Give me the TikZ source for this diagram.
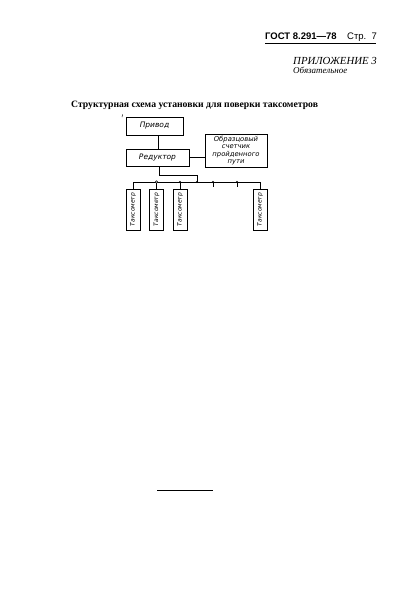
\documentclass[tikz,border=0pt]{standalone}
\usepackage{fontspec}
\setmainfont{Liberation Serif}
\setsansfont{Liberation Sans}
\newfontfamily\drawfont{DejaVu Sans}
\begin{document}
\begin{tikzpicture}[x=1pt,y=-1pt,
  blk/.style={draw,line width=0.6pt,inner sep=0pt,font=\drawfont\itshape\fontsize{7.5}{8}\selectfont},
  taxo/.style={blk,minimum width=14pt,minimum height=41pt},
  wire/.style={line width=0.6pt},
  dot/.style={circle,fill,inner sep=0pt,minimum size=2.2pt},
  odot/.style={circle,draw,fill=white,inner sep=0pt,minimum size=2.4pt,line width=0.5pt}]
\useasboundingbox (0,0) rectangle (419,602);
% header
\node[anchor=base west,inner sep=0pt,font=\sffamily\bfseries\fontsize{9.5}{10}\selectfont] (gost) at (265,40) {ГОСТ 8.291—78};
\node[anchor=base west,inner sep=0pt,font=\sffamily\fontsize{9.5}{10}\selectfont] (page) at (347,40) {Стр.\ \ 7};
\draw[line width=1pt] (265,44) -- (376,44);
\node[anchor=base west,inner sep=0pt,font=\itshape\fontsize{10.8}{12}\selectfont] (app) at (293,65) {ПРИЛОЖЕНИЕ 3};
\node[anchor=base west,inner sep=0pt,font=\itshape\fontsize{9}{10}\selectfont] (oblig) at (293,74) {Обязательное};
\node[anchor=base west,inner sep=0pt,font=\bfseries\fontsize{9.7}{10}\selectfont] (title) at (71,107) {Структурная схема установки для поверки таксометров};
% blocks
\node[blk,minimum width=57pt,minimum height=18pt] (privod) at (154.5,126) {Привод};
\node[blk,minimum width=63pt,minimum height=17pt] (red) at (157.5,157.5) {Редуктор};
\node[blk,minimum width=62pt,minimum height=33pt,align=center,font=\drawfont\itshape\fontsize{6.8}{7.3}\selectfont] (cnt) at (236,150.5) {Образцовый\\счетчик\\пройденного\\пути};
\draw[line width=0.5pt] (122,117) -- (122.6,114.5);
\draw[wire] ([xshift=3.5pt]privod.south) -- ([xshift=3.5pt]privod.south |- red.north);
\draw[wire] (red.east) -- (red.east -| cnt.west);
% taxometers
\foreach \n/\x in {t1/133,t2/156.5,t3/180,t4/260}{
  \node[taxo] (\n) at (\x,209.5) {\rotatebox{90}{\fontsize{6}{7}\selectfont Таксометр}};
}
\coordinate (bl) at (133,182);
\coordinate (br) at (260,182);
\coordinate (feed) at (197,182);
\coordinate (tap1) at (213,182);
\coordinate (tap2) at (237,182);
\draw[wire] (bl) -- (br);
\draw[wire] ([xshift=2pt]red.south) |- (197,175) -- (feed);
\foreach \n in {t1,t2,t3,t4}{ \draw[wire] (\n.north) -- (\n.north |- bl); }
\draw[wire] (tap1) -- ++(0,5);
\draw[wire] (tap2) -- ++(0,5);
\node[odot] at (t2.north |- bl) {};
\node[dot] at (t3.north |- bl) {};
\node[dot] at (feed) {};
\node[dot] at (tap1) {};
\node[dot] at (tap2) {};
% bottom rule
\draw[line width=1pt] (157,490) -- (213,490);
\end{tikzpicture}
\end{document}
